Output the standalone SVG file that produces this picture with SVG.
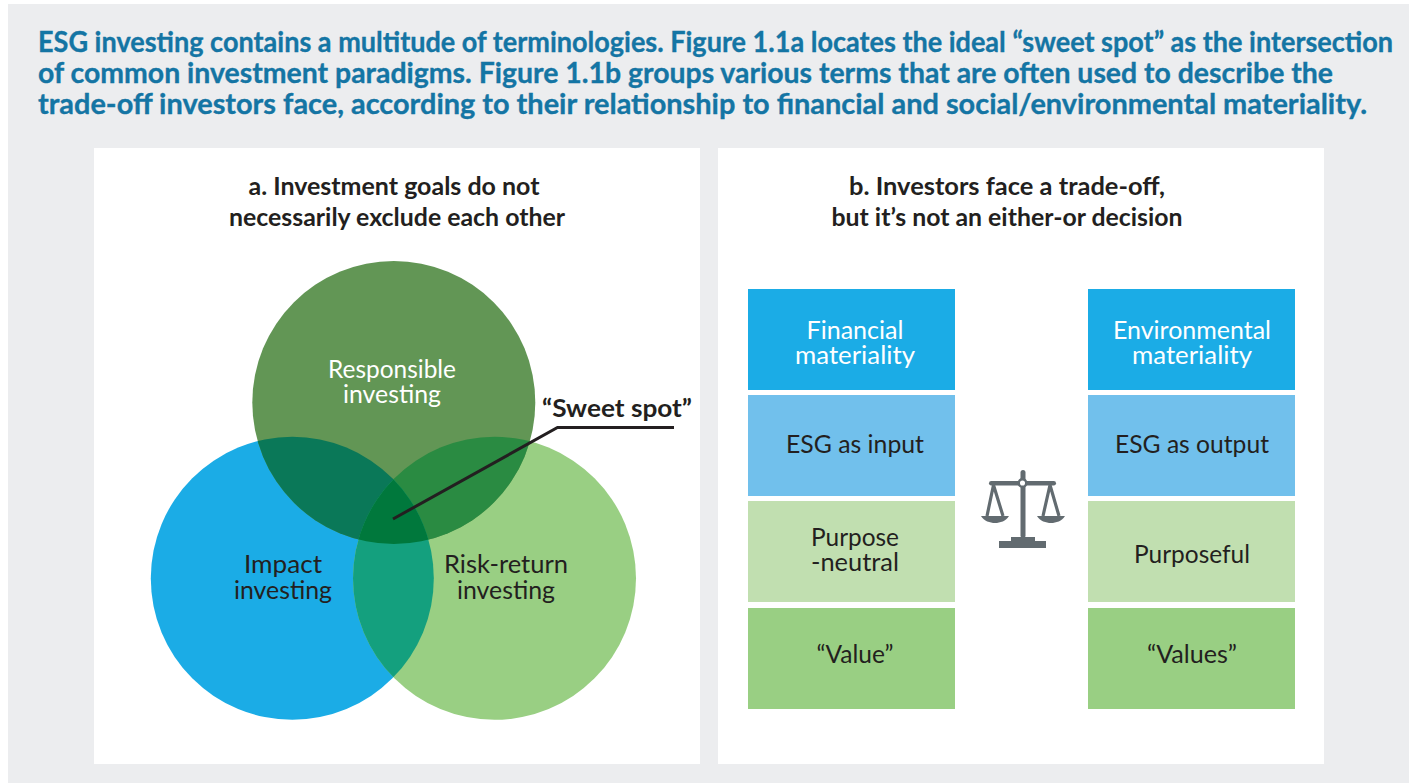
<svg xmlns="http://www.w3.org/2000/svg" width="1409" height="783" viewBox="0 0 1409 783">
<style>
text{font-family:"Lato","Liberation Sans",sans-serif}
.h{font-size:29px;font-weight:700;fill:#1475a4;stroke:#1475a4;stroke-width:.35}
.t{font-size:24px;font-weight:700;fill:#231f20;text-anchor:middle}
.l{font-size:25px;fill:#231f20;text-anchor:middle}
.w{fill:#fff}
.c{fill:none;stroke:#231f20;stroke-width:3}
.i{fill:#626b70}
</style>
<defs>
<clipPath id="ct"><circle cx="393.800" cy="402.500" r="141.500"/></clipPath>
<clipPath id="cl"><circle cx="292.300" cy="578.300" r="141.500"/></clipPath>
</defs>
<rect width="1409" height="783" fill="#fff"/>
<rect x="8" y="4" width="1401" height="779" fill="#ecedef"/>
<g id="heading">
<text class="h" x="38" y="52" textLength="1355" lengthAdjust="spacingAndGlyphs">ESG investing contains a multitude of terminologies. Figure 1.1a locates the ideal “sweet spot” as the intersection</text>
<text class="h" x="38" y="83" textLength="1295" lengthAdjust="spacingAndGlyphs">of common investment paradigms. Figure 1.1b groups various terms that are often used to describe the</text>
<text class="h" x="38" y="114" textLength="1329" lengthAdjust="spacingAndGlyphs">trade-off investors face, according to their relationship to financial and social/environmental materiality.</text>
</g>
<g id="panel-a">
<rect x="94" y="148" width="606" height="616" fill="#fff"/>
<text class="t" x="394" y="195" textLength="291" lengthAdjust="spacingAndGlyphs">a. Investment goals do not</text>
<text class="t" x="397" y="226" textLength="336" lengthAdjust="spacingAndGlyphs">necessarily exclude each other</text>
</g>
<g id="panel-b">
<rect x="718" y="148" width="606" height="616" fill="#fff"/>
<text class="t" x="1007" y="195" textLength="316" lengthAdjust="spacingAndGlyphs">b. Investors face a trade-off,</text>
<text class="t" x="1007" y="226" textLength="351" lengthAdjust="spacingAndGlyphs">but it’s not an either-or decision</text>
</g>
<g id="venn">
<circle id="circle-impact" cx="292.300" cy="578.300" r="141.500" fill="#1bace6"/>
<circle id="circle-risk" cx="494.500" cy="578.300" r="141.500" fill="#99cf83"/>
<circle id="circle-responsible" cx="393.800" cy="402.500" r="141.500" fill="#629655"/>
<circle cx="292.300" cy="578.300" r="141.500" fill="#0a7858" clip-path="url(#ct)"/>
<circle cx="494.500" cy="578.300" r="141.500" fill="#2a8b42" clip-path="url(#ct)"/>
<circle cx="494.500" cy="578.300" r="141.500" fill="#14a07e" clip-path="url(#cl)"/>
<g clip-path="url(#ct)"><circle cx="494.500" cy="578.300" r="141.500" fill="#00783c" clip-path="url(#cl)"/></g>
</g>
<g id="node-responsible"><text class="l w" x="392" y="378" textLength="128" lengthAdjust="spacingAndGlyphs">Responsible</text><text class="l w" x="392" y="403" textLength="98" lengthAdjust="spacingAndGlyphs">investing</text></g>
<g id="node-impact"><text class="l" x="283" y="573" textLength="78" lengthAdjust="spacingAndGlyphs">Impact</text><text class="l" x="283" y="599" textLength="98" lengthAdjust="spacingAndGlyphs">investing</text></g>
<g id="node-risk"><text class="l" x="506" y="573" textLength="124" lengthAdjust="spacingAndGlyphs">Risk-return</text><text class="l" x="506" y="599" textLength="98" lengthAdjust="spacingAndGlyphs">investing</text></g>
<g id="connectors"><path class="c" d="M393 519L557.500 427.500H674"/></g>
<g id="node-sweet"><text class="t" x="617" y="417" textLength="150" lengthAdjust="spacingAndGlyphs">“Sweet spot”</text></g>
<g id="node-financial"><rect x="748" y="289" width="207" height="101" fill="#1bace6"/><text class="l w" x="855" y="339" textLength="97" lengthAdjust="spacingAndGlyphs">Financial</text><text class="l w" x="855" y="364" textLength="120" lengthAdjust="spacingAndGlyphs">materiality</text></g>
<g id="node-input"><rect x="748" y="395" width="207" height="101" fill="#71c0ec"/><text class="l" x="855" y="453" textLength="138" lengthAdjust="spacingAndGlyphs">ESG as input</text></g>
<g id="node-neutral"><rect x="748" y="501" width="207" height="101" fill="#c1dfb0"/><text class="l" x="855" y="546" textLength="88" lengthAdjust="spacingAndGlyphs">Purpose</text><text class="l" x="855" y="571" textLength="88" lengthAdjust="spacingAndGlyphs">-neutral</text></g>
<g id="node-value"><rect x="748" y="608" width="207" height="101" fill="#99cf83"/><text class="l" x="855" y="663" textLength="77" lengthAdjust="spacingAndGlyphs">“Value”</text></g>
<g id="node-environmental"><rect x="1088" y="289" width="207" height="101" fill="#1bace6"/><text class="l w" x="1192" y="339" textLength="158" lengthAdjust="spacingAndGlyphs">Environmental</text><text class="l w" x="1192" y="364" textLength="120" lengthAdjust="spacingAndGlyphs">materiality</text></g>
<g id="node-output"><rect x="1088" y="395" width="207" height="101" fill="#71c0ec"/><text class="l" x="1192" y="453" textLength="154" lengthAdjust="spacingAndGlyphs">ESG as output</text></g>
<g id="node-purposeful"><rect x="1088" y="501" width="207" height="101" fill="#c1dfb0"/><text class="l" x="1192" y="563" textLength="116" lengthAdjust="spacingAndGlyphs">Purposeful</text></g>
<g id="node-values"><rect x="1088" y="608" width="207" height="101" fill="#99cf83"/><text class="l" x="1192" y="663" textLength="90" lengthAdjust="spacingAndGlyphs">“Values”</text></g>
<g id="scales">
<rect class="i" x="1020.500" y="470" width="5" height="68" rx="2.500"/>
<rect class="i" x="989" y="481" width="67" height="4.500" rx="2.200"/>
<rect class="i" x="1011" y="537" width="24" height="5"/>
<rect class="i" x="999" y="541" width="47" height="7"/>
<circle cx="1022.500" cy="483" r="3.800" fill="#fff" stroke="#626b70" stroke-width="2.500"/>
<path fill="none" stroke="#626b70" stroke-width="3.200" d="M987 516L993.500 485L1003 516M1043 516L1050 485L1059 516"/>
<path class="i" d="M981 516H1009C1006 521 1000 523 995 523C990 523 984 521 981 516Z"/>
<path class="i" d="M1037 516H1065C1062 521 1056 523 1051 523C1046 523 1040 521 1037 516Z"/>
</g>
</svg>
